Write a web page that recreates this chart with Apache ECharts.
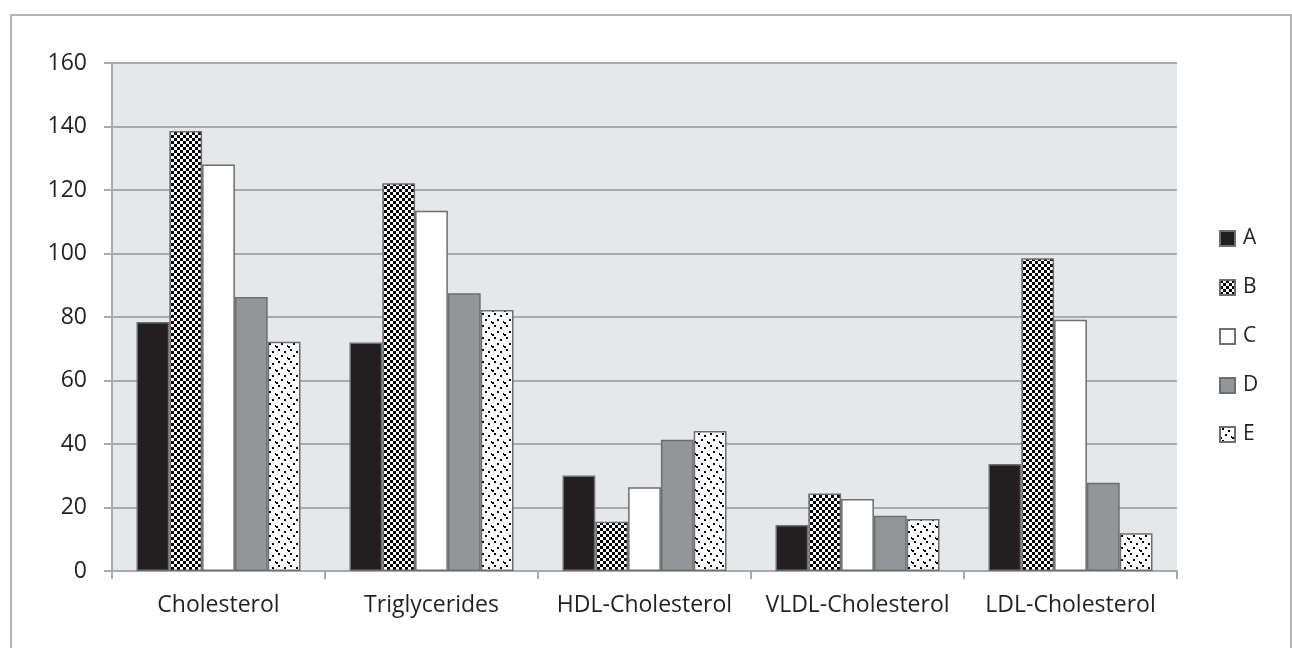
<!DOCTYPE html>
<html>
<head>
<meta charset="utf-8">
<script src="https://cdn.jsdelivr.net/npm/echarts@6/dist/echarts.min.js"></script>
<style>
  html, body { margin: 0; padding: 0; background: #ffffff; }
  #chart { width: 1292px; height: 648px; }
</style>
</head>
<body>
<div id="chart"></div>
<script>
// Lipid profile categories and the five group series
const categories = ['Cholesterol', 'Triglycerides', 'HDL-Cholesterol', 'VLDL-Cholesterol', 'LDL-Cholesterol'];
const seriesNames = ['A', 'B', 'C', 'D', 'E'];
const valuesA = [78.4, 72.0, 30.1, 14.5, 33.7];
const valuesB = [138.6, 122.1, 15.5, 24.4, 98.5];
const valuesC = [128.0, 113.5, 26.4, 22.7, 79.1];
const valuesD = [86.3, 87.5, 41.3, 17.4, 27.8];
const valuesE = [72.2, 82.2, 44.1, 16.4, 11.9];
const yTicks = [0, 20, 40, 60, 80, 100, 120, 140, 160];

// Fill patterns drawn on small canvases
function checkerPattern() {
  const c = document.createElement('canvas');
  c.width = 6; c.height = 6;
  const g = c.getContext('2d');
  g.fillStyle = '#ffffff'; g.fillRect(0, 0, 6, 6);
  g.fillStyle = '#000000';
  g.fillRect(0, 0, 3, 3);
  g.fillRect(3, 3, 3, 3);
  return { image: c, repeat: 'repeat' };
}
function dotPattern() {
  const c = document.createElement('canvas');
  c.width = 12; c.height = 12;
  const g = c.getContext('2d');
  g.fillStyle = '#ffffff'; g.fillRect(0, 0, 12, 12);
  g.fillStyle = '#000000';
  [[2, 1], [8, 3], [5, 7], [11, 9], [0, 10]].forEach(function (p) {
    g.fillRect(p[0], p[1], 2, 2);
  });
  return { image: c, repeat: 'repeat' };
}

const fills = ['#231f20', checkerPattern(), '#ffffff', '#939598', dotPattern()];
const dataSets = [valuesA, valuesB, valuesC, valuesD, valuesE];
const FONT = 'Open Sans';
const GRID_GRAY = '#a7a9ac';
const BORDER_GRAY = '#6d6e71';

const chart = echarts.init(document.getElementById('chart'), null, { renderer: 'canvas' });
chart.setOption({
  animation: false,
  backgroundColor: '#ffffff',
  graphic: [{
    type: 'rect',
    shape: { x: 11, y: 15, width: 1280, height: 660 },
    style: { fill: 'none', stroke: '#b1b3b6', lineWidth: 2 },
    silent: true
  }],
  grid: {
    left: 112, right: 115, top: 63, bottom: 77,
    show: true, backgroundColor: '#e6e7e8', borderWidth: 0
  },
  legend: {
    orient: 'vertical',
    left: 1219,
    top: 228,
    padding: 0,
    icon: 'rect',
    itemWidth: 15, itemHeight: 15,
    itemGap: 28,
    textStyle: { fontFamily: FONT, fontSize: 21, color: '#231f20', padding: [0, 0, 0, 3] },
    data: seriesNames
  },
  xAxis: {
    type: 'category',
    data: categories,
    axisLine: { show: true, lineStyle: { color: GRID_GRAY, width: 2 } },
    axisTick: { show: true, length: 8, alignWithLabel: false, lineStyle: { color: GRID_GRAY, width: 2 } },
    axisLabel: { interval: 0, fontFamily: FONT, fontSize: 23, color: '#231f20', margin: 23 },
    splitLine: { show: false }
  },
  yAxis: {
    type: 'value',
    min: yTicks[0], max: yTicks[yTicks.length - 1], interval: 20,
    axisLine: { show: true, lineStyle: { color: GRID_GRAY, width: 2 } },
    axisTick: { show: true, length: 8, lineStyle: { color: GRID_GRAY, width: 2 } },
    axisLabel: { fontFamily: FONT, fontSize: 23, color: '#231f20', margin: 25 },
    splitLine: { show: true, lineStyle: { color: GRID_GRAY, width: 2 } }
  },
  series: seriesNames.map(function (name, i) {
    return {
      name: name,
      type: 'bar',
      data: dataSets[i],
      barGap: '0%',
      barCategoryGap: '23%',
      itemStyle: { color: fills[i], borderColor: BORDER_GRAY, borderWidth: 1.5 }
    };
  })
});
</script>
</body>
</html>
